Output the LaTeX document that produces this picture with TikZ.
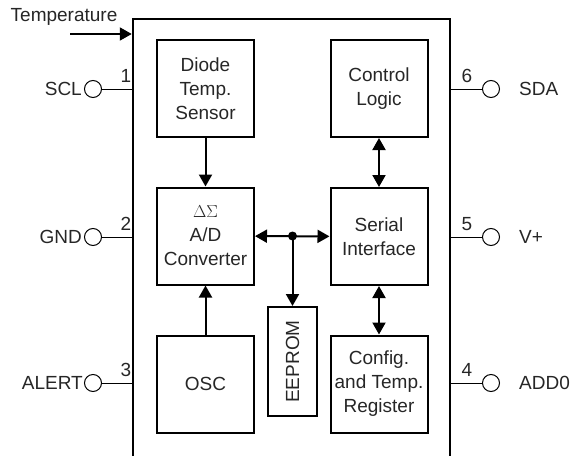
\documentclass[tikz,border=0pt]{standalone}
\usepackage{fontspec}
\setmainfont{Liberation Sans}
\usepackage{graphicx}
\usetikzlibrary{arrows.meta}
\usetikzlibrary{positioning}

\tikzset{
  block/.style={draw, line width=2pt, minimum width=97pt, minimum height=97pt, align=center, inner sep=0pt},
  pinc/.style={draw, circle, line width=1pt, minimum size=17pt, inner sep=0pt},
  lbl/.style={inner sep=0pt, text=black!85},
  sig/.style={line width=2pt, -{Triangle[length=12pt,width=13pt]}},
  bus/.style={line width=2pt, {Triangle[length=12pt,width=13pt]}-{Triangle[length=12pt,width=13pt]}},
}

\begin{document}
\begin{tikzpicture}[x=1pt,y=-1pt,font=\fontsize{19}{24}\selectfont]
        \useasboundingbox (0,0) rectangle (570,455);
        % package outline, runs off the bottom
        \node[draw, line width=2.5pt, minimum width=317pt, minimum height=460pt] (chip) at (291.5,249) {};
        % blocks
        \node[block, text=black!85] (diode) at (205.5,88.5) {Diode\\Temp.\\Sensor};
        \node[block, text=black!85] (ctrl) at (379,88.5) {Control\\Logic};
        \node[block, text=black!85] (adc) at (205.5,236) {$\Delta\Sigma$\\A/D\\Converter};
        \node[block, text=black!85] (serial) at (379,236.5) {Serial\\Interface};
        \node[block, text=black!85] (osc) at (205.5,384) {OSC};
        \node[block, text=black!85, minimum width=49pt, minimum height=109pt] (eeprom) at (292.5,361.5) {\rotatebox{90}{EEPROM}};
        \node[block, text=black!85] (config) at (379,384) {Config.\\and Temp.\\Register};
        % internal signals
        \draw[sig] (diode) -- (adc);
        \draw[sig] (osc) -- (adc);
        \draw[bus] (ctrl) -- (serial);
        \draw[bus] (serial) -- (config);
        \draw[bus] (adc) -- (serial);
        \coordinate (jn) at (eeprom.north |- adc.east);
        \fill (jn) circle (4.5pt);
        \draw[sig] (jn) -- (eeprom);
        % temperature input
        \node[lbl] (temp) at (64,17) {Temperature};
        \coordinate (tin) at (70,34);
        \draw[sig] (tin) -- (tin -| chip.west);
        % left pins
        \node[pinc] (scl) at (93,89) {};
        \node[pinc] (gnd) at (93,237) {};
        \node[pinc] (alert) at (93,383) {};
        \node[lbl, left=2pt of scl] (scl-t) {SCL};
        \node[lbl, left=2pt of gnd] (gnd-t) {GND};
        \node[lbl, left=1pt of alert] (alert-t) {ALERT};
        \draw[line width=1pt] (scl) -- (scl -| chip.west);
        \draw[line width=1pt] (gnd) -- (gnd -| chip.west);
        \draw[line width=1pt] (alert) -- (alert -| chip.west);
        \node[lbl] (p1) at (126,76) {1};
        \node[lbl] (p2) at (126,224) {2};
        \node[lbl] (p3) at (126,370) {3};
        % right pins
        \node[pinc] (sda) at (491,89) {};
        \node[pinc] (vplus) at (491,237) {};
        \node[pinc] (add) at (491,383) {};
        \node[lbl, right=19pt of sda] (sda-t) {SDA};
        \node[lbl, right=19pt of vplus] (vplus-t) {V+};
        \node[lbl, right=19pt of add] (add-t) {ADD0};
        \draw[line width=1pt] (sda) -- (sda -| chip.east);
        \draw[line width=1pt] (vplus) -- (vplus -| chip.east);
        \draw[line width=1pt] (add) -- (add -| chip.east);
        \node[lbl] (p6) at (467,76) {6};
        \node[lbl] (p5) at (467,224) {5};
        \node[lbl] (p4) at (467,370) {4};
    \end{tikzpicture}
\end{document}
